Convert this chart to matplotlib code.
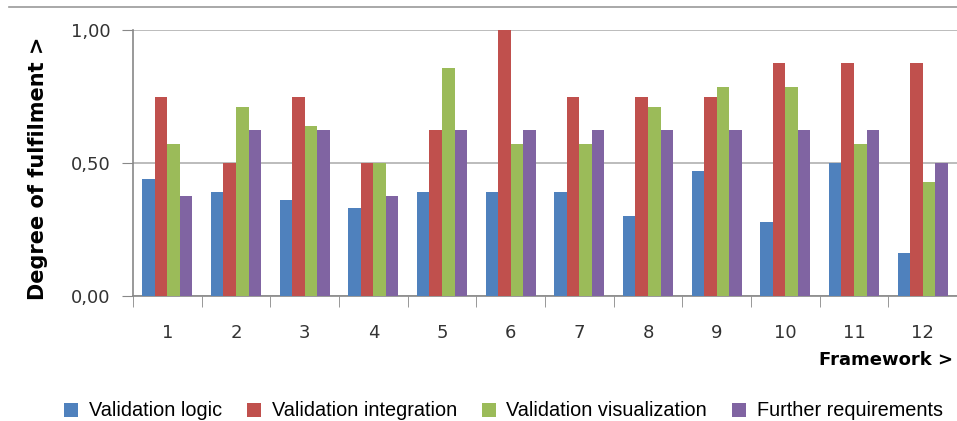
import numpy as np
import matplotlib.pyplot as plt
from matplotlib.lines import Line2D

plt.rcParams['font.family'] = ['DejaVu Sans']

frameworks = ['1', '2', '3', '4', '5', '6', '7', '8', '9', '10', '11', '12']
series_names = ['Validation logic', 'Validation integration',
                'Validation visualization', 'Further requirements']
logic = [0.44, 0.39, 0.36, 0.33, 0.39, 0.39, 0.39, 0.30, 0.47, 0.28, 0.50, 0.16]
integration = [0.75, 0.50, 0.75, 0.50, 0.625, 1.00, 0.75, 0.75, 0.75, 0.875, 0.875, 0.875]
visualization = [0.57, 0.71, 0.64, 0.50, 0.857, 0.57, 0.57, 0.71, 0.786, 0.786, 0.57, 0.43]
further = [0.375, 0.625, 0.625, 0.375, 0.625, 0.625, 0.625, 0.625, 0.625, 0.625, 0.625, 0.50]
colors = ['#4F81BD', '#C0504D', '#9BBB59', '#8064A2']

fig = plt.figure(figsize=(9.57, 4.21), dpi=100)
ax = fig.add_axes([133/957, 1-296/421, 824/957, 266/421])

x = np.arange(len(frameworks))
w = 0.183
for i, vals in enumerate([logic, integration, visualization, further]):
    ax.bar(x + (i - 1.5)*w, vals, w, color=colors[i], label=series_names[i], zorder=3)

ax.set_xlim(-0.5, len(frameworks) - 0.5)
ax.set_ylim(0, 1)
ax.set_yticks([0, 0.5, 1.0])
ax.set_yticklabels(['0,00', '0,50', '1,00'], fontsize=13, color='#333333')
ax.set_xticks(x)
ax.set_xticklabels(frameworks, fontsize=13, color='#333333')
ax.set_xticks(np.arange(-0.5, len(frameworks)), minor=True)
ax.tick_params(axis='x', which='major', length=0, pad=20)
ax.tick_params(axis='x', which='minor', length=8, color='#888888', direction='out')
ax.tick_params(axis='y', length=8, color='#888888', pad=8)
ax.grid(axis='y', color='#b0b0b0', linewidth=1.2, zorder=0)
for s in ['top', 'right']:
    ax.spines[s].set_visible(False)
for s in ['left', 'bottom']:
    ax.spines[s].set_color('#888888')
    ax.spines[s].set_linewidth(1.2)

fig.text(38/957, 1-168/421, 'Degree of fulfilment >', rotation=90, fontsize=15,
         fontweight='bold', ha='center', va='center')
fig.text(953/957, 1-360/421, 'Framework >', fontsize=13, fontweight='bold',
         ha='right', va='center')

fig.add_artist(Line2D([9/957, 1], [1-7/421, 1-7/421], color='#999999', linewidth=1.2))

fig.legend(loc='center left', bbox_to_anchor=(54/957, 1-411/421), ncol=4, frameon=False,
           prop={'family': 'Liberation Sans', 'size': 14.3}, borderpad=0,
           handlelength=0.7, handleheight=0.7, handletextpad=0.55,
           columnspacing=1.25)

fig.savefig('out.png', dpi=100)
